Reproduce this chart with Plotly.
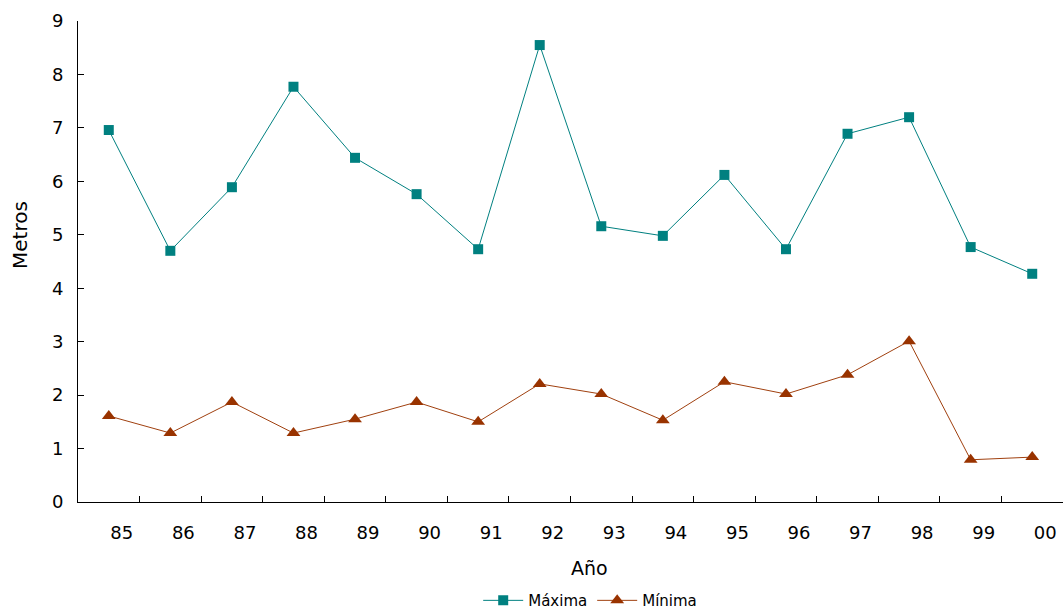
import plotly.graph_objects as go

years = ["85", "86", "87", "88", "89", "90", "91", "92", "93", "94", "95", "96", "97", "98", "99", "00"]
maxima = [6.96, 4.70, 5.89, 7.77, 6.44, 5.76, 4.73, 8.55, 5.16, 4.98, 6.12, 4.73, 6.89, 7.20, 4.77, 4.27]
minima = [1.61, 1.29, 1.87, 1.29, 1.55, 1.87, 1.50, 2.21, 2.02, 1.53, 2.25, 2.02, 2.38, 3.01, 0.79, 0.84]

xi = list(range(len(years)))
FONT = "DejaVu Sans"

fig = go.Figure()
fig.add_trace(go.Scatter(
    x=xi, y=maxima, name="Máxima", mode="lines+markers",
    line=dict(color="#008080", width=1),
    marker=dict(symbol="square", size=10, color="#008080"),
))
fig.add_trace(go.Scatter(
    x=xi, y=minima, name="Mínima", mode="lines+markers",
    line=dict(color="#a0400f", width=1),
    marker=dict(symbol="triangle-up", size=12, color="#993300"),
))

fig.update_layout(
    width=1063, height=616,
    margin=dict(l=78, r=0, t=21, b=114, autoexpand=False),
    paper_bgcolor="white", plot_bgcolor="white",
    font=dict(family=FONT, color="black", size=18),
    showlegend=True,
    legend=dict(orientation="h", x=0.52, xanchor="center", y=-0.205, yanchor="middle",
                font=dict(size=15), itemwidth=40, tracegroupgap=0),
    xaxis=dict(
        range=[-0.5, 15.5], tickmode="array", tickvals=xi, ticktext=years,
        ticks="", showgrid=False, zeroline=False, automargin=False,
        showline=True, linecolor="black", linewidth=1,
        ticklabelshift=13, ticklabelstandoff=14,
        minor=dict(tickmode="array", tickvals=[i + 0.5 for i in range(15)],
                   ticks="inside", ticklen=6, tickcolor="black", tickwidth=1, showgrid=False),
    ),
    yaxis=dict(
        range=[0, 9], tickmode="array", tickvals=list(range(10)),
        ticks="inside", ticklen=6, tickcolor="black", automargin=False,
        showgrid=False, zeroline=False,
        showline=True, linecolor="black", linewidth=1,
        ticklabelstandoff=10,
    ),
    annotations=[
        dict(text="Año", xref="paper", yref="paper", x=(589 - 78) / 985, y=(502 - 568) / 481,
             showarrow=False, font=dict(size=19), xanchor="center", yanchor="middle"),
        dict(text="Metros", xref="paper", yref="paper", x=(20 - 78) / 985, y=(502 - 235) / 481,
             showarrow=False, font=dict(size=20), textangle=-90, xanchor="center", yanchor="middle"),
    ],
)

fig.write_html("out.html", config={"displayModeBar": False},
               post_script="document.body.style.margin='0';document.body.style.overflow='hidden';")
